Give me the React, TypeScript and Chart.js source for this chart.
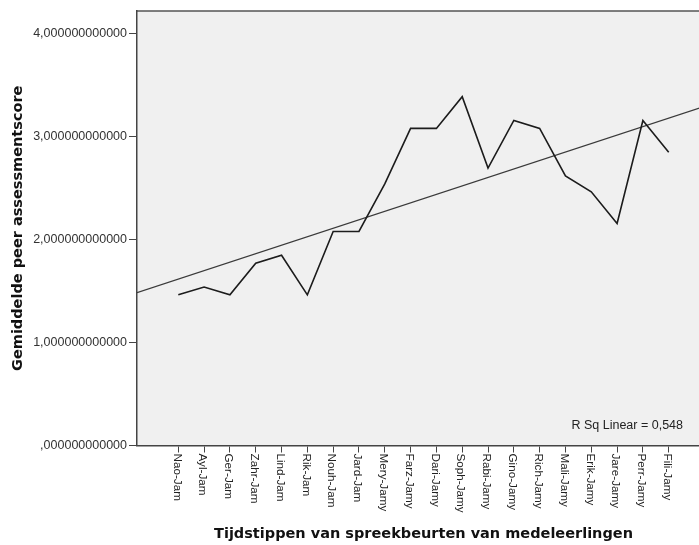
import React, { useEffect, useRef } from "react";
import { Chart, registerables } from "chart.js";

Chart.register(...registerables);

// ---- data ----
const categories = [
  "Nao-Jam", "Ayl-Jam", "Ger-Jam", "Zahr-Jam", "Lind-Jam", "Rik-Jam", "Nouh-Jam", "Jard-Jam",
  "Mery-Jamy", "Farz-Jamy", "Dari-Jamy", "Soph-Jamy", "Rabi-Jamy", "Gino-Jamy", "Rich-Jamy",
  "Mali-Jamy", "Erik-Jamy", "Jare-Jamy", "Perr-Jamy", "Fili-Jamy",
];
const scores = [
  1.462, 1.538, 1.462, 1.769, 1.846, 1.462, 2.077, 2.077, 2.538, 3.077,
  3.077, 3.385, 2.692, 3.154, 3.077, 2.615, 2.462, 2.154, 3.154, 2.846,
];
const yTickValues = [0, 1, 2, 3, 4];
const yTickLabels = [",000000000000", "1,000000000000", "2,000000000000", "3,000000000000", "4,000000000000"];
const xTitle = "Tijdstippen van spreekbeurten van medeleerlingen";
const yTitle = "Gemiddelde peer assessmentscore";
const fitLabelPrefix = "R Sq Linear = ";

const X_MIN = -0.6;
const X_MAX = 21.6;
const Y_MIN = 0;
const Y_MAX = 4.216;

// linear regression of the series
const xs = categories.map((_, i) => i + 1);
const n = xs.length;
const mx = xs.reduce((a, b) => a + b, 0) / n;
const my = scores.reduce((a, b) => a + b, 0) / n;
let sxx = 0, sxy = 0, syy = 0;
for (let i = 0; i < n; i++) {
  sxx += (xs[i] - mx) ** 2;
  sxy += (xs[i] - mx) * (scores[i] - my);
  syy += (scores[i] - my) ** 2;
}
const slope = sxy / sxx;
const intercept = my - slope * mx;
const r2 = (sxy * sxy) / (sxx * syy);
const fitLabel = fitLabelPrefix + r2.toFixed(3).replace(".", ",");

const TEXT_FONT = "'Liberation Sans', Arial, sans-serif";
const TITLE_FONT = "'DejaVu Sans', Verdana, sans-serif";

const decorPlugin = {
  id: "decor",
  beforeDraw(chart: any) {
    const { ctx, chartArea } = chart;
    const { left, top, right, bottom } = chartArea;
    ctx.save();
    ctx.fillStyle = "#f0f0f0";
    ctx.fillRect(left, top, right - left, bottom - top);
    ctx.strokeStyle = "#555555";
    ctx.lineWidth = 1.5;
    ctx.beginPath();
    ctx.moveTo(left, top);
    ctx.lineTo(right, top);
    ctx.stroke();
    ctx.restore();
  },
  afterDraw(chart: any) {
    const { ctx, chartArea } = chart;
    const xScale = chart.scales.x;
    ctx.save();
    ctx.fillStyle = "#222222";
    ctx.font = `11.7px ${TEXT_FONT}`;
    ctx.textAlign = "left";
    ctx.textBaseline = "middle";
    categories.forEach((c, i) => {
      const px = xScale.getPixelForValue(xs[i]);
      ctx.save();
      ctx.translate(px - 1.5, chartArea.bottom + 8);
      ctx.rotate(Math.PI / 2);
      ctx.fillText(c, 0, 0);
      ctx.restore();
    });
    ctx.font = `12.5px ${TEXT_FONT}`;
    ctx.textAlign = "right";
    ctx.textBaseline = "middle";
    ctx.fillText(fitLabel, chartArea.right - 27, chartArea.bottom - 20);
    ctx.restore();
  },
};

export default function App() {
  const ref = useRef<HTMLCanvasElement | null>(null);

  useEffect(() => {
    if (!ref.current) return;
    const chart = new Chart(ref.current, {
      type: "line",
      data: {
        datasets: [
          {
            label: "Mean",
            data: scores.map((v, i) => ({ x: xs[i], y: v })),
            borderColor: "#1c1c1c",
            borderWidth: 1.6,
            pointRadius: 0,
            tension: 0,
            fill: false,
          },
          {
            label: "Fit",
            data: [
              { x: X_MIN, y: intercept + slope * X_MIN },
              { x: X_MAX, y: intercept + slope * X_MAX },
            ],
            borderColor: "#3a3a3a",
            borderWidth: 1.2,
            pointRadius: 0,
            tension: 0,
            fill: false,
          },
        ],
      },
      options: {
        animation: false,
        responsive: false,
        devicePixelRatio: 1,
        layout: { padding: { top: 11, left: 0, right: 0, bottom: 0 } },
        plugins: {
          legend: { display: false },
          tooltip: { enabled: false },
        },
        scales: {
          x: {
            type: "linear",
            min: X_MIN,
            max: X_MAX,
            afterBuildTicks: (s: any) => {
              s.ticks = xs.map((v) => ({ value: v }));
            },
            afterFit: (s: any) => {
              s.height = 99.5;
            },
            ticks: { display: false },
            grid: {
              display: true,
              drawOnChartArea: false,
              drawTicks: true,
              tickLength: 7,
              color: "#444444",
              lineWidth: 1,
            },
            border: { display: true, color: "#444444", width: 1.5 },
            title: {
              display: true,
              text: xTitle,
              color: "#111111",
              font: { family: TITLE_FONT, size: 14.5, weight: "bold" },
              padding: { top: 0, bottom: 2 },
            },
          },
          y: {
            type: "linear",
            min: Y_MIN,
            max: Y_MAX,
            afterBuildTicks: (s: any) => {
              s.ticks = yTickValues.map((v) => ({ value: v }));
            },
            afterFit: (s: any) => {
              s.width = 137;
            },
            ticks: {
              color: "#333333",
              font: { family: TEXT_FONT, size: 12.5 },
              padding: 2,
              callback: (v: any) => {
                const idx = yTickValues.indexOf(Number(v));
                return idx >= 0 ? yTickLabels[idx] : "";
              },
            },
            grid: {
              display: true,
              drawOnChartArea: false,
              drawTicks: true,
              tickLength: 8,
              color: "#444444",
              lineWidth: 1,
            },
            border: { display: true, color: "#444444", width: 1.5 },
            title: {
              display: true,
              text: yTitle,
              color: "#111111",
              font: { family: TITLE_FONT, size: 14.5, weight: "bold" },
              padding: { top: 10, bottom: 0 },
            },
          },
        },
      },
      plugins: [decorPlugin],
    } as any);
    return () => chart.destroy();
  }, []);

  return (
    <div
      style={{
        position: "absolute",
        left: 0,
        top: 0,
        width: 699,
        height: 545,
        overflow: "hidden",
        background: "#ffffff",
      }}
    >
      <canvas ref={ref} width={710} height={545} style={{ display: "block" }} />
    </div>
  );
}
